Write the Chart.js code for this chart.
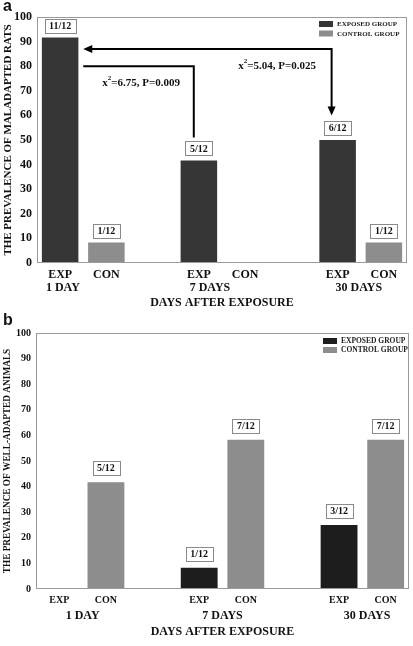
<!DOCTYPE html>
<html>
<head>
<meta charset="utf-8">
<script src="https://cdn.jsdelivr.net/npm/chart.js@4.4.1/dist/chart.umd.min.js"></script>
<style>
  body { margin: 0; background: #fff; }
  canvas { display: block; }
</style>
</head>
<body>
<canvas id="chartA" width="413" height="310"></canvas>
<canvas id="chartB" width="413" height="336"></canvas>
<script>
// slots on the x axis: exposed / control per day, blank slot between days
const tickLabels = ["EXP", "CON", "", "EXP", "CON", "", "EXP", "CON"];
const dayLabels = ["1 DAY", "7 DAYS", "30 DAYS"];
const groupSize = 12;

// rats per group of 12
const maladExposed = [11, 5, 6];
const maladControl = [1, 0, 1];
const wellExposed = [0, 1, 3];
const wellControl = [5, 7, 7];

const SERIF = "'Liberation Serif', 'Times New Roman', serif";

function spreadCounts(counts, offset) {
  const out = tickLabels.map(() => null);
  counts.forEach((n, i) => { out[i * 3 + offset] = n; });
  return out;
}
function spreadPct(counts, offset) {
  return spreadCounts(counts, offset).map(n => n === null ? null : n / groupSize * 100);
}

// gray frame around the plot area
const framePlugin = {
  id: 'frame',
  afterDraw(chart) {
    const { ctx, chartArea: a } = chart;
    ctx.save();
    ctx.strokeStyle = '#9a9a9a';
    ctx.lineWidth = 1;
    ctx.strokeRect(a.left + 0.5, a.top + 0.5, a.right - a.left - 1, a.bottom - a.top - 1);
    ctx.restore();
  }
};

// boxed "n/12" labels above bars
const boxPlugin = {
  id: 'boxes',
  afterDatasetsDraw(chart, args, opts) {
    const ctx = chart.ctx;
    ctx.save();
    ctx.font = 'bold ' + opts.size + 'px ' + SERIF;
    ctx.textAlign = 'center';
    ctx.textBaseline = 'middle';
    chart.data.datasets.forEach((ds, di) => {
      chart.getDatasetMeta(di).data.forEach((bar, i) => {
        const n = ds.counts[i];
        if (!n) return;
        const txt = n + '/' + groupSize;
        const w = ctx.measureText(txt).width + 9;
        const h = opts.size + 4;
        const bottom = bar.y - opts.gap;
        ctx.fillStyle = '#fff';
        ctx.strokeStyle = '#8a8a8a';
        ctx.lineWidth = 1;
        ctx.fillRect(Math.round(bar.x - w / 2) + 0.5, Math.round(bottom - h) + 0.5, Math.round(w), h);
        ctx.strokeRect(Math.round(bar.x - w / 2) + 0.5, Math.round(bottom - h) + 0.5, Math.round(w), h);
        ctx.fillStyle = '#111';
        ctx.fillText(txt, bar.x, bottom - h / 2 + 0.5);
      });
    });
    ctx.restore();
  }
};

// day labels under the EXP/CON ticks, panel letter, legend inside the plot
const extrasPlugin = {
  id: 'extras',
  afterDraw(chart, args, opts) {
    const { ctx, chartArea: a } = chart;
    const x = chart.scales.x;
    ctx.save();
    ctx.fillStyle = '#111';
    ctx.textAlign = 'center';
    ctx.textBaseline = 'middle';
    ctx.font = 'bold 12px ' + SERIF;
    dayLabels.forEach((t, i) => ctx.fillText(t, x.getPixelForValue(opts.dayPos[i]), opts.dayY));

    ctx.textAlign = 'left';
    ctx.font = 'bold 16px Arial, "Liberation Sans", sans-serif';
    ctx.fillText(opts.letter, 3, opts.letterY);

    // legend
    ctx.font = 'bold ' + opts.legendSize + 'px ' + SERIF;
    const bx = a.right - opts.legendRight;
    chart.data.datasets.forEach((ds, i) => {
      const by = a.top + opts.legendTop + i * opts.legendStep;
      ctx.fillStyle = ds.backgroundColor;
      ctx.fillRect(bx, by, 14, 6);
      ctx.fillStyle = '#222';
      ctx.fillText(ds.label, bx + 18, by + 3.5);
    });
    ctx.restore();
  }
};

function drawChi(ctx, cx, cy, rest) {
  const big = 'bold 11px ' + SERIF, small = 'bold 7px ' + SERIF;
  ctx.font = big; const w1 = ctx.measureText('x').width; const w3 = ctx.measureText(rest).width;
  ctx.font = small; const w2 = ctx.measureText('2').width;
  let x0 = cx - (w1 + w2 + w3) / 2;
  ctx.textAlign = 'left';
  ctx.textBaseline = 'middle';
  ctx.font = big; ctx.fillText('x', x0, cy);
  ctx.font = small; ctx.fillText('2', x0 + w1, cy - 5);
  ctx.font = big; ctx.fillText(rest, x0 + w1 + w2, cy);
}

// comparison brackets of panel a
const arrowsPlugin = {
  id: 'arrows',
  afterDatasetsDraw(chart) {
    const { ctx } = chart;
    const px = v => chart.scales.x.getPixelForValue(v);
    const py = v => chart.scales.y.getPixelForValue(v);
    ctx.save();
    ctx.strokeStyle = '#000';
    ctx.fillStyle = '#000';
    ctx.lineWidth = 2;
    // 1 day vs 30 days
    ctx.beginPath();
    ctx.moveTo(px(0.5) + 6, py(87));
    ctx.lineTo(px(5.87), py(87));
    ctx.lineTo(px(5.87), py(60) - 7);
    ctx.stroke();
    ctx.beginPath();
    ctx.moveTo(px(0.5), py(87));
    ctx.lineTo(px(0.5) + 9, py(87) - 4);
    ctx.lineTo(px(0.5) + 9, py(87) + 4);
    ctx.fill();
    ctx.beginPath();
    ctx.moveTo(px(5.87), py(60));
    ctx.lineTo(px(5.87) - 4, py(60) - 9);
    ctx.lineTo(px(5.87) + 4, py(60) - 9);
    ctx.fill();
    // 1 day vs 7 days
    ctx.beginPath();
    ctx.moveTo(px(0.5), py(80));
    ctx.lineTo(px(2.89), py(80));
    ctx.lineTo(px(2.89), py(51));
    ctx.stroke();
    ctx.fillStyle = '#111';
    drawChi(ctx, px(1.75), py(73), '=6.75, P=0.009');
    drawChi(ctx, px(4.69), py(80), '=5.04, P=0.025');
    ctx.restore();
  }
};

function makeChart(id, p) {
  return new Chart(document.getElementById(id), {
    type: 'bar',
    data: {
      labels: tickLabels,
      datasets: [
        { label: 'EXPOSED GROUP', data: spreadPct(p.exposed, 0), counts: spreadCounts(p.exposed, 0),
          backgroundColor: p.expColor },
        { label: 'CONTROL GROUP', data: spreadPct(p.control, 1), counts: spreadCounts(p.control, 1),
          backgroundColor: '#8d8d8d' }
      ]
    },
    options: {
      responsive: false,
      devicePixelRatio: 1,
      animation: false,
      layout: { padding: { top: p.top, right: p.right, left: 0, bottom: 0 } },
      datasets: { bar: { grouped: false, categoryPercentage: 1, barPercentage: 0.79 } },
      plugins: {
        legend: { display: false },
        tooltip: { enabled: false },
        boxes: { size: p.boxSize, gap: p.boxGap },
        extras: p.extras
      },
      scales: {
        x: {
          grid: { display: false, drawTicks: false },
          border: { display: false },
          afterFit: s => { s.height = p.xHeight; },
          ticks: { autoSkip: false, maxRotation: 0, padding: 5, color: '#111',
                   font: { family: SERIF, weight: 'bold', size: p.xTickSize } },
          title: { display: true, text: 'DAYS AFTER EXPOSURE', color: '#111',
                   padding: { top: 0, bottom: p.xTitlePad },
                   font: { family: SERIF, weight: 'bold', size: 12 } }
        },
        y: {
          min: 0, max: 100,
          grid: { display: false, drawTicks: false },
          border: { display: false },
          afterFit: s => { s.width = p.yWidth; },
          ticks: { stepSize: 10, padding: 5, color: '#111',
                   font: { family: SERIF, weight: 'bold', size: p.yTickSize } },
          title: { display: true, text: p.yTitle, color: '#111',
                   padding: { top: 2, bottom: 0 },
                   font: { family: SERIF, weight: 'bold', size: p.yTitleSize } }
        }
      }
    },
    plugins: p.plugins
  });
}

makeChart('chartA', {
  exposed: maladExposed, control: maladControl, expColor: '#363636',
  top: 17, right: 6, xHeight: 47, yWidth: 37,
  xTickSize: 12, yTickSize: 12, yTitleSize: 11, xTitlePad: 0,
  yTitle: 'THE PREVALENCE OF MALADAPTED RATS',
  boxSize: 10, boxGap: 5,
  extras: { dayPos: [0.06, 3.24, 6.46], dayY: 288, letter: 'a', letterY: 7,
            legendRight: 88, legendTop: 4, legendStep: 9.5, legendSize: 7 },
  plugins: [framePlugin, boxPlugin, extrasPlugin, arrowsPlugin]
});

makeChart('chartB', {
  exposed: wellExposed, control: wellControl, expColor: '#1d1d1d',
  top: 23, right: 4, xHeight: 57, yWidth: 36,
  xTickSize: 10, yTickSize: 10, yTitleSize: 9.3, xTitlePad: 7,
  yTitle: 'THE PREVALENCE OF WELL-ADAPTED ANIMALS',
  boxSize: 10, boxGap: 7,
  extras: { dayPos: [0.5, 3.5, 6.6], dayY: 306, letter: 'b', letterY: 11,
            legendRight: 86, legendTop: 5, legendStep: 9, legendSize: 7.5 },
  plugins: [framePlugin, boxPlugin, extrasPlugin]
});
</script>
</body>
</html>
